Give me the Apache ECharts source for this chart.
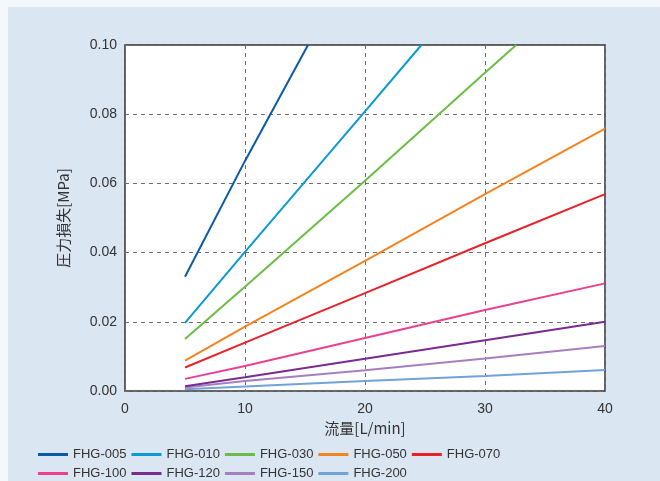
<!DOCTYPE html>
<html><head><meta charset="utf-8">
<script src="https://cdn.jsdelivr.net/npm/echarts@6/dist/echarts.min.js"></script>
<style>html,body{margin:0;padding:0;background:#f4f8fc;}#c{width:660px;height:481px;}</style>
</head><body><div id="c"></div>
<script>
const seriesNames = ['FHG-005','FHG-010','FHG-030','FHG-050','FHG-070','FHG-100','FHG-120','FHG-150','FHG-200'];
const fhg005 = [[5,0.033],[10,0.0665],[15.25,0.100]];
const fhg010 = [[5,0.0197],[10,0.0402],[15,0.0605],[20,0.0808],[24.7,0.100]];
const fhg030 = [[5,0.015],[10,0.0301],[20,0.0608],[30,0.092],[32.6,0.100]];
const fhg050 = [[5,0.0088],[10,0.0186],[20,0.0376],[30,0.0569],[40,0.0758]];
const fhg070 = [[5,0.0068],[10,0.0140],[20,0.0283],[30,0.0427],[40,0.0569]];
const fhg100 = [[5,0.0035],[10,0.0072],[20,0.0153],[30,0.0234],[40,0.0311]];
const fhg120 = [[5,0.0014],[10,0.0040],[20,0.0093],[30,0.0147],[40,0.0200]];
const fhg150 = [[5,0.0010],[10,0.0029],[20,0.0060],[30,0.0094],[40,0.0130]];
const fhg200 = [[5,0.0005],[10,0.0013],[20,0.0029],[30,0.0043],[40,0.0061]];
const seriesData = [fhg005,fhg010,fhg030,fhg050,fhg070,fhg100,fhg120,fhg150,fhg200];
const colors = ['#0a5aa8','#0a9ad8','#6cbd45','#f5831f','#e92128','#ec408f','#7a2b8f','#a67fbe','#72a2da'];
const xTicks = [0,10,20,30,40];
const yTicks = ['0.00','0.02','0.04','0.06','0.08','0.10'];

const font = '"Liberation Sans", Arial, sans-serif';
const chart = echarts.init(document.getElementById('c'), null, {renderer:'canvas'});
const legendText = {fontSize:13, color:'#333', fontFamily:font};
chart.setOption({
  animation:false,
  backgroundColor:'#f4f8fc',
  color: colors,
  graphic:[{type:'rect', shape:{x:8,y:7,width:660,height:481}, style:{fill:'#dbe6f3'}, z:-10}],
  grid:{left:125, right:55, top:45, bottom:90, show:true, backgroundColor:'#ffffff', borderColor:'#333', borderWidth:1.5},
  legend:[
    {data:seriesNames.slice(0,5), left:38, top:448, itemWidth:30, itemHeight:3, itemGap:5, icon:'rect', textStyle:legendText, padding:0},
    {data:seriesNames.slice(5), left:38, top:467, itemWidth:30, itemHeight:3, itemGap:5, icon:'rect', textStyle:legendText, padding:0}
  ],
  xAxis:{type:'value', min:0, max:40, interval:10,
    name:'流量[L/min]', nameLocation:'middle', nameGap:30,
    nameTextStyle:{fontSize:15, color:'#333', fontFamily:'"Noto Sans CJK JP", sans-serif'},
    axisLine:{show:false}, axisTick:{show:false},
    axisLabel:{fontSize:14, color:'#333', fontFamily:font, margin:11,
      formatter:v=>xTicks.includes(v)?String(v):''},
    splitLine:{show:true, lineStyle:{color:'#6e6e6e', type:[4,4], width:1}}},
  yAxis:{type:'value', min:0, max:0.1, interval:0.02,
    name:'圧力損失[MPa]', nameLocation:'middle', nameGap:54, nameRotate:90,
    nameTextStyle:{fontSize:15, color:'#333', fontFamily:'"Noto Sans CJK JP", sans-serif'},
    axisLine:{show:false}, axisTick:{show:false},
    axisLabel:{fontSize:14, color:'#333', fontFamily:font, margin:8,
      formatter:v=>yTicks[Math.round(v/0.02)]},
    splitLine:{show:true, lineStyle:{color:'#6e6e6e', type:[4,4], width:1}}},
  series: seriesNames.map((n,i)=>({name:n, type:'line', data:seriesData[i], showSymbol:false, symbol:'none',
    lineStyle:{width:2, color:colors[i]}, itemStyle:{color:colors[i]}, clip:true, z:10-i}))
});
</script></body></html>
